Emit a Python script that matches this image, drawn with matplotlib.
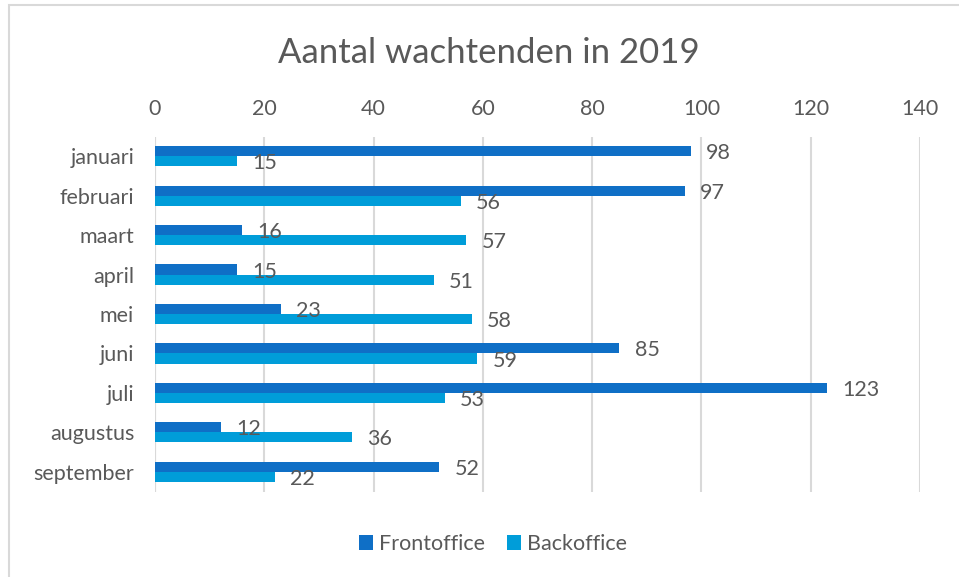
import matplotlib
matplotlib.use("Agg")
import matplotlib.pyplot as plt
import numpy as np
from matplotlib.patches import Rectangle

months = ["januari", "februari", "maart", "april", "mei", "juni", "juli", "augustus", "september"]
frontoffice = [98, 97, 16, 15, 23, 85, 123, 12, 52]
backoffice = [15, 56, 57, 51, 58, 59, 53, 36, 22]
xticks = [0, 20, 40, 60, 80, 100, 120, 140]

plt.rcParams['font.family'] = ['Lato', 'DejaVu Sans']
txt = '#595959'
c_front = '#0F6FC6'
c_back = '#009DD9'
fs = 15.5

fig = plt.figure(figsize=(9.59, 5.77), dpi=100)
ax = fig.add_axes([155/959, 1-491.5/577, (920-155)/959, (491.5-136.5)/577])

y = np.arange(len(months))
h = 0.255
ax.barh(y - h/2, frontoffice, height=h, color=c_front, label='Frontoffice', zorder=3)
ax.barh(y + h/2, backoffice, height=h, color=c_back, label='Backoffice', zorder=3)

for yi, v in zip(y, frontoffice):
    ax.annotate(str(v), (v, yi - h/2), xytext=(11, -1.5), textcoords='offset points',
                va='center', ha='left', fontsize=fs, color=txt, zorder=4)
for yi, v in zip(y, backoffice):
    ax.annotate(str(v), (v, yi + h/2), xytext=(11, -1.5), textcoords='offset points',
                va='center', ha='left', fontsize=fs, color=txt, zorder=4)

ax.set_xlim(0, 140)
ax.set_ylim(len(months) - 0.5, -0.5)
ax.set_xticks(xticks)
ax.set_xticklabels([str(t) for t in xticks])
ax.xaxis.tick_top()
ax.tick_params(axis='x', length=0, pad=12.5, labelsize=fs, labelcolor=txt)
ax.set_yticks(y)
ax.set_yticklabels(months)
ax.tick_params(axis='y', length=0, pad=15, labelsize=fs, labelcolor=txt)
ax.grid(axis='x', color='#d9d9d9', linewidth=1.5, zorder=0)
for s in ax.spines.values():
    s.set_visible(False)
ax.axvline(0, color='#d9d9d9', linewidth=1.5, zorder=1)

fig.text(489/959, 1-53/577, 'Aantal wachtenden in 2019', ha='center', va='center',
         fontsize=25, color=txt)

leg = fig.legend(loc='center', bbox_to_anchor=(493/959, 1-544/577), ncol=2, frameon=False,
                 fontsize=fs, handlelength=0.65, handleheight=0.65, handletextpad=0.3,
                 columnspacing=1.0, labelcolor=txt)

# chart border
fig.add_artist(Rectangle((9/959, -0.05), 1.0, 1-5/577 + 0.05, transform=fig.transFigure,
                         fill=False, edgecolor='#d9d9d9', linewidth=1.5))

fig.savefig('out.png', dpi=100, facecolor='white')
